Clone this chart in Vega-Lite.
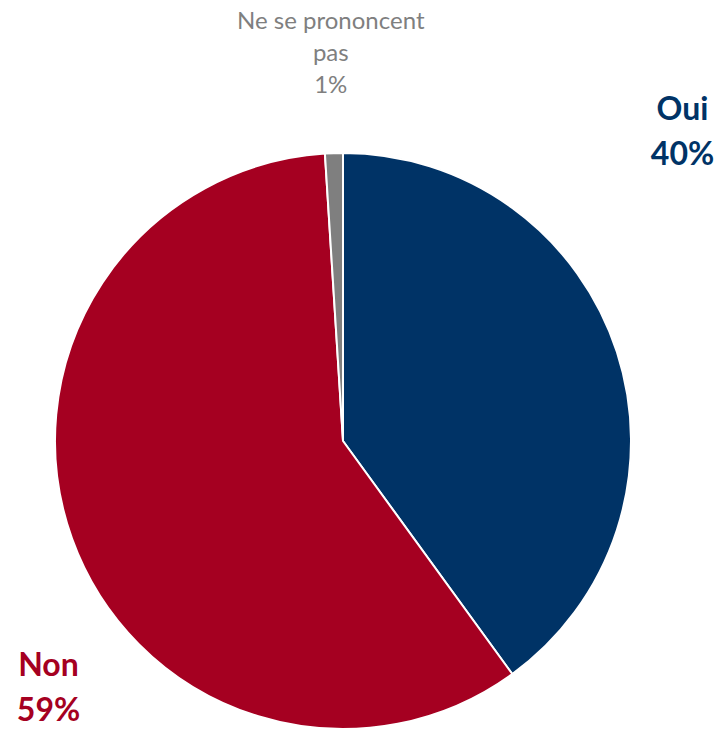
{
  "$schema": "https://vega.github.io/schema/vega-lite/v6.json",
  "width": 686,
  "height": 578,
  "autosize": {"type": "none"},
  "padding": {"left": 0, "top": 152, "right": 34, "bottom": 0},
  "background": "white",
  "config": {"view": {"stroke": null}},
  "data": {
    "values": [
      {"reponse": "Oui", "pct": 40, "ordre": 1, "etiquette": "Oui\n40%"},
      {"reponse": "Non", "pct": 59, "ordre": 2, "etiquette": "Non\n59%"},
      {"reponse": "Ne se prononcent pas", "pct": 1, "ordre": 3, "etiquette": "Ne se prononcent\npas\n1%"}
    ]
  },
  "encoding": {
    "theta": {"field": "pct", "type": "quantitative", "stack": true},
    "order": {"field": "ordre", "type": "quantitative"},
    "color": {
      "field": "reponse",
      "type": "nominal",
      "scale": {"domain": ["Oui", "Non", "Ne se prononcent pas"], "range": ["#003366", "#A50021", "#7F7F7F"]},
      "legend": null
    }
  },
  "layer": [
    {"mark": {"type": "arc", "outerRadius": 288, "stroke": "white", "strokeWidth": 2}},
    {
      "mark": {"type": "text", "radius": 357, "dy": -221, "align": "center", "baseline": "middle", "font": "Lato", "fontSize": 32, "fontWeight": "bold", "lineHeight": 45, "lineBreak": "\n"},
      "encoding": {"text": {"condition": {"test": "datum.reponse === 'Oui'", "field": "etiquette"}, "value": ""}}
    },
    {
      "mark": {"type": "text", "radius": 313, "dy": 119, "align": "center", "baseline": "middle", "font": "Lato", "fontSize": 32, "fontWeight": "bold", "lineHeight": 45, "lineBreak": "\n"},
      "encoding": {"text": {"condition": {"test": "datum.reponse === 'Non'", "field": "etiquette"}, "value": ""}}
    },
    {
      "mark": {"type": "text", "radius": 389, "dy": -30, "align": "center", "baseline": "middle", "font": "Lato", "fontSize": 24, "lineHeight": 32, "lineBreak": "\n"},
      "encoding": {"text": {"condition": {"test": "datum.reponse === 'Ne se prononcent pas'", "field": "etiquette"}, "value": ""}}
    }
  ]
}
